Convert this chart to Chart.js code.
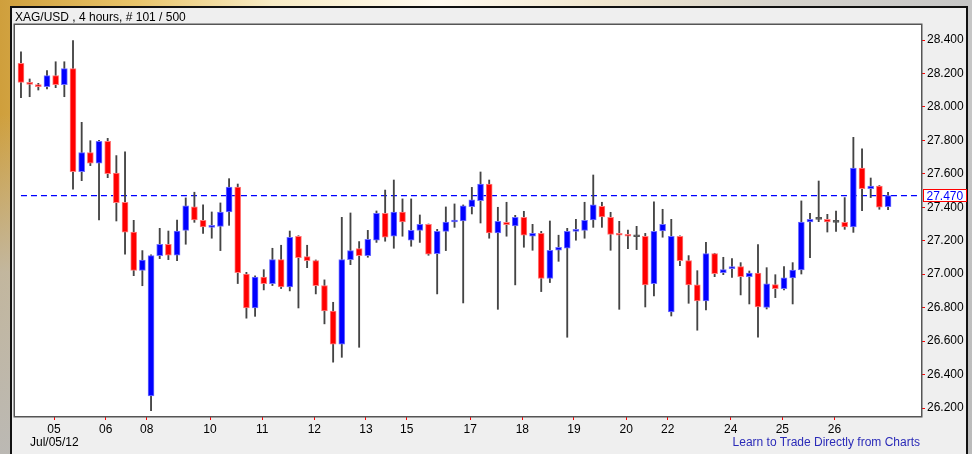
<!DOCTYPE html>
<html><head><meta charset="utf-8">
<script src="https://cdn.jsdelivr.net/npm/chart.js@4.4.0/dist/chart.umd.min.js"></script>
<style>
html,body{margin:0;padding:0;width:972px;height:454px;overflow:hidden;}
body{position:relative;
 background:
  linear-gradient(180deg,rgba(192,192,192,0) 0%,rgba(192,192,192,0) 25%,rgba(190,190,190,0.75) 60%,rgba(186,186,186,0.95) 100%),
  linear-gradient(90deg,#cf9f3c 0%,#e8c46a 14%,#f8ecc6 28%,#fffaf0 45%,#f0e6cf 62%,#d6d3cc 80%,#c6c6c6 100%);
 font-family:"Liberation Sans",Arial,sans-serif;}
#panel{position:absolute;left:10px;top:6px;width:958px;height:460px;box-sizing:border-box;border:2px solid #111;background:#efefef;}
#wrap{position:absolute;left:0;top:0;width:972px;height:454px;}
.txt{position:absolute;font-size:12px;line-height:14px;white-space:nowrap;}
#title{left:15px;top:10px;color:#000;}
#date{left:30px;top:435px;color:#000;}
#learn{right:52px;top:435px;color:#2b2bb8;}
</style></head><body>
<div id="panel"></div>
<div id="wrap"><canvas id="c" width="972" height="454"></canvas></div>
<div class="txt" id="title">XAG/USD , 4 hours, # 101 / 500</div>
<div class="txt" id="date">Jul/05/12</div>
<div class="txt" id="learn">Learn to Trade Directly from Charts</div>
<script>
// ---- data ----
const opens = [28.260,28.147,28.133,28.121,28.187,28.133,28.229,27.613,27.727,27.663,
27.794,27.605,27.430,27.251,27.023,26.272,27.111,27.179,27.113,27.262,
27.402,27.322,27.280,27.286,27.372,27.521,27.001,26.798,26.983,26.944,
27.087,26.924,27.227,27.105,27.081,26.932,26.780,26.581,27.087,27.153,
27.111,27.203,27.364,27.227,27.372,27.203,27.262,27.298,27.123,27.256,
27.312,27.318,27.404,27.440,27.539,27.246,27.310,27.288,27.340,27.227,
27.244,26.974,27.143,27.155,27.256,27.262,27.324,27.406,27.340,27.238,
27.233,27.224,27.227,26.944,27.258,26.774,27.227,27.081,26.936,26.840,
27.123,27.009,27.033,27.045,26.985,27.007,26.802,26.938,26.914,26.978,
27.025,27.312,27.328,27.328,27.310,27.310,27.282,27.635,27.511,27.527,
27.404];
const highs = [28.330,28.167,28.141,28.217,28.270,28.270,28.396,27.908,27.798,27.800,
27.812,27.709,27.732,27.322,27.141,27.115,27.274,27.258,27.324,27.456,
27.490,27.414,27.372,27.426,27.571,27.539,27.011,26.990,27.027,27.155,
27.173,27.258,27.230,27.173,27.085,26.966,26.832,27.340,27.366,27.195,
27.262,27.378,27.503,27.563,27.450,27.450,27.354,27.300,27.268,27.402,
27.420,27.414,27.519,27.611,27.563,27.400,27.430,27.352,27.376,27.298,
27.256,27.318,27.233,27.274,27.328,27.430,27.593,27.430,27.370,27.316,
27.264,27.286,27.244,27.432,27.388,27.328,27.230,27.111,27.021,27.190,
27.125,27.101,27.093,27.069,27.019,27.177,27.039,26.997,27.045,27.069,
27.438,27.364,27.557,27.358,27.378,27.458,27.818,27.750,27.575,27.530,
27.490];
const lows = [28.055,28.061,28.101,28.107,28.115,28.061,27.508,27.559,27.649,27.324,
27.577,27.318,27.119,26.991,26.931,26.184,27.093,27.087,27.081,27.179,
27.310,27.244,27.215,27.141,27.292,26.944,26.737,26.748,26.906,26.932,
26.914,26.900,26.798,27.039,26.882,26.703,26.474,26.503,27.057,26.563,
27.101,27.190,27.197,27.155,27.227,27.167,27.190,27.113,26.882,27.141,
27.280,26.828,27.360,27.306,27.215,26.790,27.227,26.936,27.161,27.143,
26.896,26.950,27.077,26.623,27.203,27.215,27.280,27.280,27.143,26.790,
27.153,27.147,26.804,26.870,27.221,26.750,27.051,26.826,26.665,26.786,
26.985,26.997,26.980,26.876,26.822,26.623,26.792,26.860,26.906,26.822,
27.001,27.099,27.314,27.252,27.256,27.268,27.250,27.380,27.458,27.388,
27.386];
const closes = [28.147,28.135,28.121,28.187,28.133,28.229,27.613,27.727,27.663,27.794,
27.601,27.428,27.251,27.023,27.085,27.111,27.179,27.113,27.258,27.408,
27.324,27.282,27.285,27.372,27.521,27.009,26.798,26.983,26.944,27.087,
26.924,27.221,27.099,27.081,26.932,26.780,26.581,27.087,27.141,27.111,
27.209,27.364,27.221,27.372,27.312,27.262,27.298,27.119,27.256,27.312,
27.318,27.408,27.444,27.539,27.246,27.316,27.296,27.340,27.233,27.244,
26.974,27.143,27.161,27.256,27.262,27.322,27.414,27.342,27.238,27.233,
27.227,27.224,26.936,27.256,27.298,27.227,27.081,26.936,26.840,27.123,
27.003,27.027,27.045,26.985,27.007,26.804,26.942,26.914,26.978,27.025,
27.312,27.328,27.328,27.312,27.310,27.282,27.635,27.511,27.527,27.400,
27.470];
const lastPrice = 27.470;
const dayTickPos = [3.81,9.77,14.5,21.8,27.83,33.83,39.79,44.48,51.82,57.82,63.78,69.8,74.59,81.86,87.81,93.81];
const dayTickLabels = ['05','06','08','10','11','12','13','15','17','18','19','20','22','24','25','26'];
const priceTicks = [26.2,26.4,26.6,26.8,27.0,27.2,27.4,27.6,27.8,28.0,28.2,28.4];

// ---- build datasets ----
const bodyData = opens.map((o,i)=>({x:i, y:[Math.min(o,closes[i]), Math.max(o,closes[i])]}));
const wickData = opens.map((o,i)=>({x:i, y:[lows[i], highs[i]]}));
const bodyFill = opens.map((o,i)=> closes[i]>o ? '#0000ff' : (closes[i]<o ? '#ff0000' : '#555555'));
const bodyEdge = opens.map((o,i)=> closes[i]>o ? '#7070ff' : (closes[i]<o ? '#ff7a7a' : '#555555'));
const xMin = -0.69, xMax = 103.8;

const FONT = {family:'"Liberation Sans", Arial, sans-serif', size:12};

const frame = {
  id:'frame',
  beforeDatasetsDraw(chart){
    const a = chart.chartArea, ctx = chart.ctx;
    ctx.save(); ctx.fillStyle = '#ffffff';
    ctx.fillRect(a.left, a.top, a.right-a.left, a.bottom-a.top);
    ctx.restore();
  },
  afterDraw(chart){
    const a = chart.chartArea, ctx = chart.ctx;
    ctx.save();
    ctx.strokeStyle = '#555555'; ctx.lineWidth = 1.5;
    ctx.strokeRect(a.left-0.75, a.top-0.75, a.right-a.left+1.5, a.bottom-a.top+1.5);
    // last price box on the right axis
    const y = chart.scales.y.getPixelForValue(lastPrice);
    const bx = a.right + 2.5, bw = 43, bh = 12;
    ctx.fillStyle = '#ffffff';
    ctx.fillRect(bx, Math.round(y)-bh/2-0.5, bw, bh);
    ctx.strokeStyle = '#ff0000'; ctx.lineWidth = 1;
    ctx.strokeRect(bx, Math.round(y)-bh/2-0.5, bw, bh);
    ctx.fillStyle = '#0000ff';
    ctx.font = '12px "Liberation Sans", Arial, sans-serif';
    ctx.textBaseline = 'middle'; ctx.textAlign = 'left';
    ctx.fillText(lastPrice.toFixed(3), bx+3, Math.round(y)+0.5);
    ctx.restore();
  }
};

new Chart(document.getElementById('c'), {
  type:'bar',
  data:{
    datasets:[
      {type:'bar', label:'body', data:bodyData, backgroundColor:bodyFill, borderColor:bodyEdge,
       borderWidth:1, barThickness:6, minBarLength:2, grouped:false, order:0, borderSkipped:false},
      {type:'bar', label:'wick', data:wickData, backgroundColor:'#444444', borderWidth:0,
       barThickness:1.2, grouped:false, order:1},
      {type:'line', label:'last', data:[{x:0,y:lastPrice},{x:xMax,y:lastPrice}],
       borderColor:'#0000ff', borderWidth:1.2, borderDash:[6,4], pointRadius:0, fill:false, order:2}
    ]
  },
  options:{
    responsive:false, animation:false, devicePixelRatio:1,
    layout:{padding:{left:15, top:25, right:0, bottom:0}},
    plugins:{legend:{display:false}, tooltip:{enabled:false}, title:{display:false}},
    scales:{
      x:{type:'linear', position:'bottom', min:xMin, max:xMax, offset:false,
         afterBuildTicks(s){ s.ticks = dayTickPos.map(v=>({value:v})); },
         afterFit(s){ s.height = 38; },
         grid:{display:true, drawOnChartArea:false, drawTicks:true, tickLength:4, tickColor:'#ff0000', offset:false},
         border:{display:false},
         ticks:{autoSkip:false, maxRotation:0, padding:2, color:'#000', font:FONT,
                callback:(v,i)=>dayTickLabels[i]}
      },
      y:{type:'linear', position:'right', min:26.1522, max:28.4897,
         afterBuildTicks(s){ s.ticks = priceTicks.map(v=>({value:v})); },
         afterFit(s){ s.width = 51; },
         grid:{display:true, drawOnChartArea:false, drawTicks:true, tickLength:4, tickColor:'#ff0000'},
         border:{display:false},
         ticks:{padding:2, color:'#000', font:FONT, callback:(v)=>Number(v).toFixed(3)}
      }
    }
  },
  plugins:[frame]
});
</script>
</body></html>
